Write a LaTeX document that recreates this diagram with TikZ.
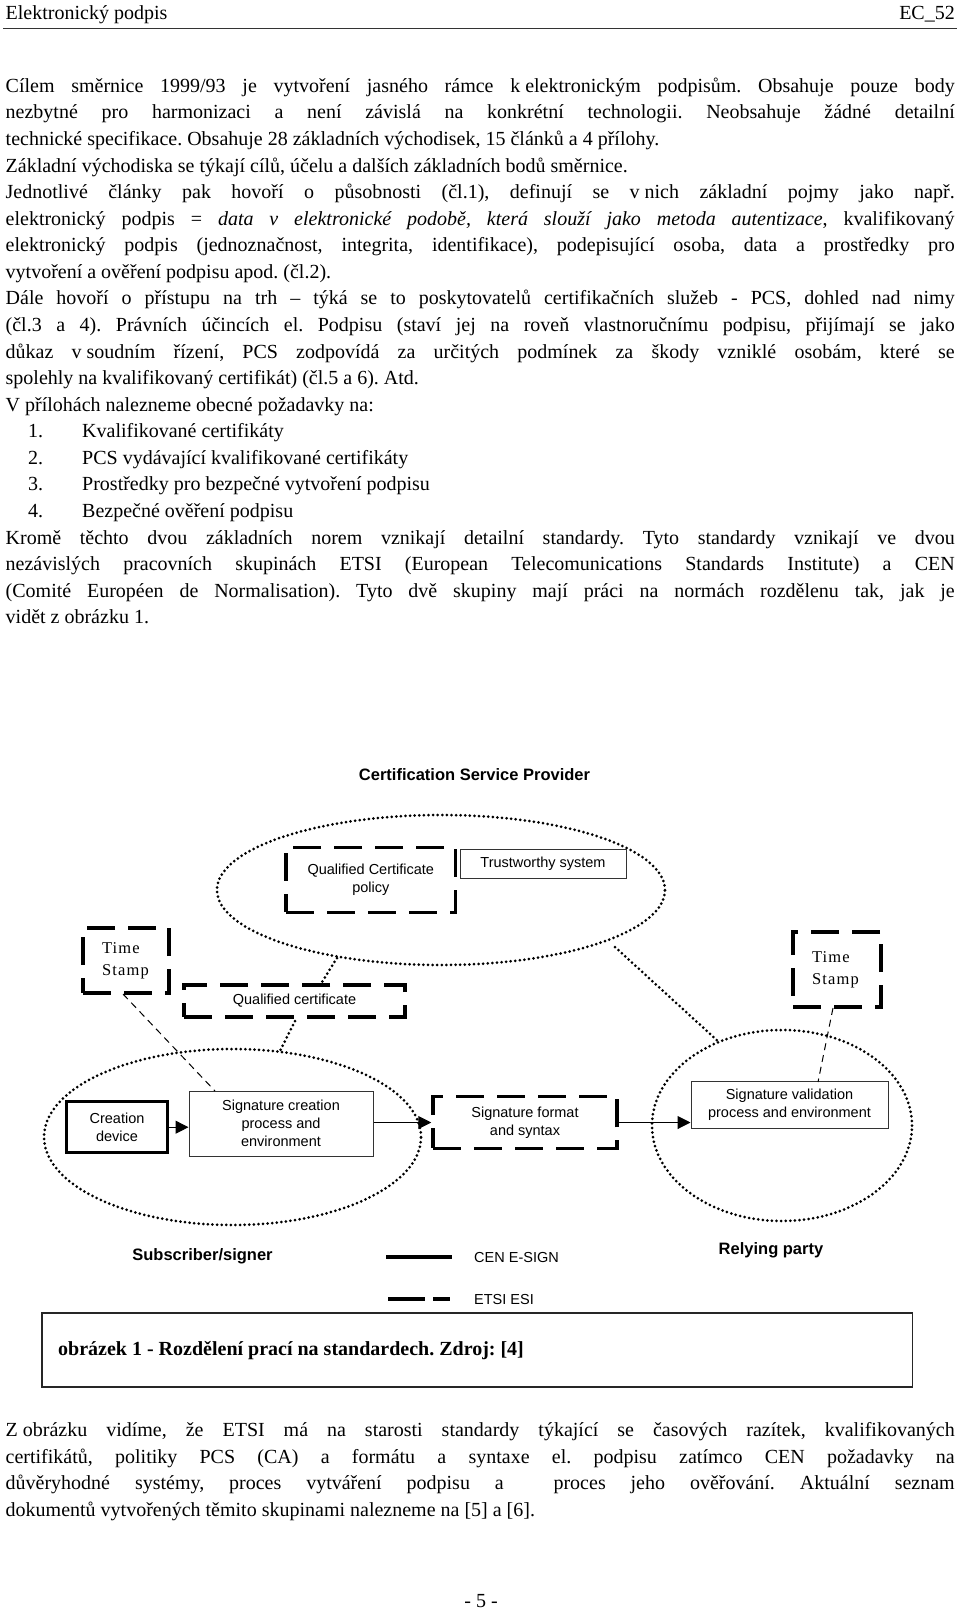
\documentclass[tikz,border=0pt]{standalone}
\usepackage{fontspec}
\setmainfont{Liberation Serif}
\newfontfamily\sansfam{Liberation Sans}
\newfontfamily\tsfam{Liberation Serif}[LetterSpace=7]
\usetikzlibrary{shapes.geometric,arrows.meta}
\newcommand{\jline}[1]{\makebox[949pt][s]{#1}}
\newcommand{\nb}{\hspace{5pt}}
\frenchspacing
\begin{document}
\begin{tikzpicture}[x=1pt,y=-1pt,
  bodytxt/.style={anchor=base west,inner sep=0pt,font=\fontsize{20pt}{26.57pt}\selectfont},
  boxtxt/.style={font=\sansfam\fontsize{14.5pt}{18.3pt}\selectfont, align=center, inner sep=0pt},
  thinbox/.style={draw=black!80, line width=1pt, rectangle, boxtxt},
  thickbox/.style={draw=black, line width=3.5pt, rectangle, boxtxt},
  etsibox/.style={draw=black, line width=3.5pt, dash pattern=on 28pt off 13pt, rectangle, boxtxt},
  tsbox/.style={etsibox, font=\tsfam\fontsize{16.5pt}{22pt}\selectfont, align=left, inner xsep=19pt, inner ysep=0pt},
  dotell/.style={ellipse, draw=black, line width=3pt, dash pattern=on 0pt off 4.6pt, line cap=round, inner sep=0pt},
  dotline/.style={draw=black, line width=3pt, dash pattern=on 0pt off 4.6pt, line cap=round},
  thindash/.style={draw=black, line width=1pt, dash pattern=on 7pt off 5pt},
  arr/.style={draw=black, line width=1pt, -{Triangle[length=13pt,width=13pt]}},
  boldlbl/.style={font=\sansfam\bfseries\fontsize{16.5pt}{20pt}\selectfont, inner sep=0pt},
  legtxt/.style={font=\sansfam\fontsize{14.5pt}{18pt}\selectfont, inner sep=0pt, anchor=west},
]
\fill[white] (0,0) rectangle (960,1611);
\useasboundingbox (0,0) rectangle (960,1611);

% header
\node[bodytxt] (hdl) at (5.5,19.5) {Elektronický podpis};
\node[bodytxt, anchor=base east] (hdr) at (955,19.5) {EC\_52};
\draw[line width=1.5pt, black!80] (3,28.5) -- (957,28.5);

% body text
\node[bodytxt] (t1) at (5.5,92.3) {\jline{Cílem směrnice 1999/93 je vytvoření jasného rámce k\nb elektronickým podpisům. Obsahuje pouze body}};
\node[bodytxt] (t2) at (5.5,118.9) {\jline{nezbytné pro harmonizaci a není závislá na konkrétní technologii. Neobsahuje žádné detailní}};
\node[bodytxt] (t3) at (5.5,145.4) {technické specifikace. Obsahuje 28 základních východisek, 15 článků a 4 přílohy.};
\node[bodytxt] (t4) at (5.5,172.0) {Základní východiska se týkají cílů, účelu a dalších základních bodů směrnice.};
\node[bodytxt] (t5) at (5.5,198.6) {\jline{Jednotlivé články pak hovoří o působnosti (čl.1), definují se v\nb nich základní pojmy jako např.}};
\node[bodytxt] (t6) at (5.5,225.2) {\jline{elektronický podpis = \textit{data v elektronické podobě, která slouží jako metoda autentizace}, kvalifikovaný}};
\node[bodytxt] (t7) at (5.5,251.7) {\jline{elektronický podpis (jednoznačnost, integrita, identifikace), podepisující osoba, data a prostředky pro}};
\node[bodytxt] (t8) at (5.5,278.3) {vytvoření a ověření podpisu apod. (čl.2).};
\node[bodytxt] (t9) at (5.5,304.9) {\jline{Dále hovoří o přístupu na trh – týká se to poskytovatelů certifikačních služeb - PCS, dohled nad nimy}};
\node[bodytxt] (t10) at (5.5,331.4) {\jline{(čl.3 a 4). Právních účincích el. Podpisu (staví jej na roveň vlastnoručnímu podpisu, přijímají se jako}};
\node[bodytxt] (t11) at (5.5,358.0) {\jline{důkaz v\nb soudním řízení, PCS zodpovídá za určitých podmínek za škody vzniklé osobám, které se}};
\node[bodytxt] (t12) at (5.5,384.6) {spolehly na kvalifikovaný certifikát) (čl.5 a 6). Atd.};
\node[bodytxt] (t13) at (5.5,411.1) {V přílohách nalezneme obecné požadavky na:};
\node[bodytxt] (n14) at (28,437.7) {1.};
\node[bodytxt] (t14) at (82,437.7) {Kvalifikované certifikáty};
\node[bodytxt] (n15) at (28,464.3) {2.};
\node[bodytxt] (t15) at (82,464.3) {PCS vydávající kvalifikované certifikáty};
\node[bodytxt] (n16) at (28,490.9) {3.};
\node[bodytxt] (t16) at (82,490.9) {Prostředky pro bezpečné vytvoření podpisu};
\node[bodytxt] (n17) at (28,517.4) {4.};
\node[bodytxt] (t17) at (82,517.4) {Bezpečné ověření podpisu};
\node[bodytxt] (t18) at (5.5,544.0) {\jline{Kromě těchto dvou základních norem vznikají detailní standardy. Tyto standardy vznikají ve dvou}};
\node[bodytxt] (t19) at (5.5,570.6) {\jline{nezávislých pracovních skupinách ETSI (European Telecomunications Standards Institute) a CEN}};
\node[bodytxt] (t20) at (5.5,597.1) {\jline{(Comité Européen de Normalisation). Tyto dvě skupiny mají práci na normách rozdělenu tak, jak je}};
\node[bodytxt] (t21) at (5.5,623.7) {vidět z obrázku 1.};

% diagram
\node[boldlbl] (csptitle) at (474.5,775) {Certification Service Provider};
\node[dotell, minimum width=448pt, minimum height=150pt] (csp) at (441,890) {};
\node[dotell, minimum width=377pt, minimum height=176pt] (subs) at (232.5,1137) {};
\node[dotell, minimum width=260pt, minimum height=191pt] (rely) at (782,1125.5) {};

\node[etsibox, minimum width=169.6pt, minimum height=65pt] (qcpol) at (370.8,879.8) {Qualified Certificate\\policy};
\node[thinbox, minimum width=166pt, minimum height=29pt] (trust) at (543,864) {Trustworthy system};
\node[tsbox, text width=48pt, minimum height=65pt] (tsl) at (126,960.5) {Time\\Stamp};
\node[tsbox, text width=50pt, minimum height=75pt] (tsr) at (837,969.5) {Time\\Stamp};
\node[etsibox, minimum width=221pt, minimum height=32pt] (qc) at (294.5,1001) {Qualified certificate};

\node[thickbox, minimum width=100.6pt, minimum height=51pt] (creation) at (117,1127.2) {Creation\\device};
\node[thinbox, minimum width=184pt, minimum height=65pt] (sigc) at (281,1123.5) {Signature creation\\process and\\environment};
\node[etsibox, minimum width=184pt, minimum height=51.6pt] (fmt) at (525,1122.5) {Signature format\\and syntax};
\node[thinbox, minimum width=197pt, minimum height=46.6pt] (val) at (789.5,1105) {Signature validation\\process and environment};

\draw[arr] (creation.east) -- (creation.east -| sigc.west);
\draw[arr] (sigc.east |- fmt.west) -- (fmt.west);
\draw[arr] (fmt.east) -- (fmt.east -| val.west);

\coordinate (d1a) at (337,958);
\coordinate (d1b) at (322,982);
\draw[dotline] (d1a) -- (d1b);
\coordinate (d2a) at (295,1021);
\coordinate (d2b) at (280,1051);
\draw[dotline] (d2a) -- (d2b);
\coordinate (d3a) at (615,947);
\coordinate (d3b) at (720,1043);
\draw[dotline] (d3a) -- (d3b);

\coordinate (e1a) at (123,994);
\coordinate (e1b) at (215,1091);
\draw[thindash] (e1a) -- (e1b);
\coordinate (e2a) at (833,1008);
\coordinate (e2b) at (818,1082);
\draw[thindash] (e2a) -- (e2b);

\node[boldlbl] (subslbl) at (202.5,1256) {Subscriber/signer};
\node[boldlbl] (relylbl) at (771,1250) {Relying party};

% legend
\coordinate (l1a) at (386,1257);
\coordinate (l1b) at (452,1257);
\draw[line width=4pt] (l1a) -- (l1b);
\node[legtxt] (cen) at (474,1257) {CEN E-SIGN};
\coordinate (l2a) at (388,1299);
\coordinate (l2b) at (450,1299);
\draw[line width=4pt, dash pattern=on 37pt off 8pt] (l2a) -- (l2b);
\node[legtxt] (etsi) at (474,1299) {ETSI ESI};

% caption
\node[draw=black!85, line width=1.6pt, minimum width=870.5pt, minimum height=74pt, inner sep=0pt] (capbox) at (477.3,1350) {};
\node[bodytxt, font=\bfseries\fontsize{20pt}{24pt}\selectfont] (cap) at (58,1355) {obrázek 1 - Rozdělení prací na standardech. Zdroj: [4]};

% closing text
\node[bodytxt] (b1) at (5.5,1436.7) {\jline{Z\nb obrázku vidíme, že ETSI má na starosti standardy týkající se časových razítek, kvalifikovaných}};
\node[bodytxt] (b2) at (5.5,1463.3) {\jline{certifikátů, politiky PCS (CA) a formátu a syntaxe el. podpisu zatímco CEN požadavky na}};
\node[bodytxt] (b3) at (5.5,1489.8) {\jline{důvěryhodné systémy, proces vytváření podpisu a \ proces jeho ověřování. Aktuální seznam}};
\node[bodytxt] (b4) at (5.5,1516.4) {dokumentů vytvořených těmito skupinami nalezneme na [5] a [6].};
\node[bodytxt, anchor=base] (pg) at (481,1607) {- 5 -};
\end{tikzpicture}
\end{document}
